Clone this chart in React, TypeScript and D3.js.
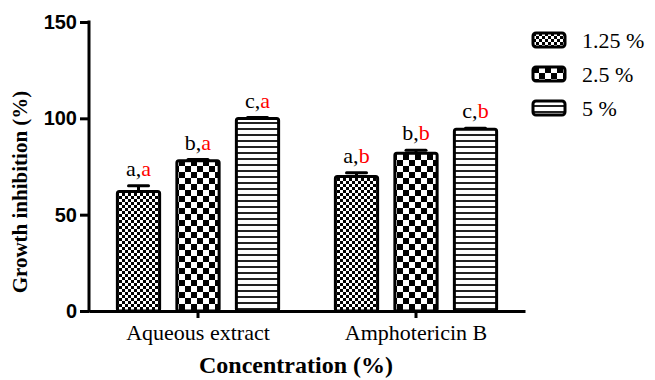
import { useEffect, useRef } from 'react'
import * as d3 from 'd3'

const groups = ['Aqueous extract', 'Amphotericin B']
const series = ['1.25 %', '2.5 %', '5 %']
const aqueousMeans = [62, 78, 99.9]
const amphoMeans = [69.8, 81.9, 94.3]
const aqueousErr = [3, 0.6, 0.5]
const amphoErr = [2, 1.5, 0.6]
const concLetters = ['a', 'b', 'c']
const groupLetters = ['a', 'b']
const yTicks = [0, 50, 100, 150]

const W = 655
const H = 380
const SERIF = '"Liberation Serif", "Times New Roman", serif'
const SANS = '"Liberation Sans", Arial, sans-serif'

export default function App() {
  const svgRef = useRef<SVGSVGElement | null>(null)

  useEffect(() => {
    document.body.style.margin = '0'
    const svg = d3.select(svgRef.current)
    svg.selectAll('*').remove()

    const margin = { top: 22, right: 130, bottom: 69, left: 89 }
    const innerW = W - margin.left - margin.right
    const innerH = H - margin.top - margin.bottom

    const x0 = d3.scaleBand().domain(groups).range([0, innerW]).padding(0)
    const x1 = d3.scaleBand().domain(series).range([0, x0.bandwidth()])
      .paddingInner(0.29).paddingOuter(0.477)
    const y = d3.scaleLinear().domain([0, 150]).range([innerH, 0])

    // fill patterns
    const defs = svg.append('defs')
    const fine = defs.append('pattern').attr('id', 'p0').attr('patternUnits', 'userSpaceOnUse')
      .attr('width', 6).attr('height', 6)
    fine.append('rect').attr('width', 6).attr('height', 6).attr('fill', '#fff')
    fine.append('rect').attr('width', 3).attr('height', 3).attr('fill', '#000')
    fine.append('rect').attr('x', 3).attr('y', 3).attr('width', 3).attr('height', 3).attr('fill', '#000')

    const coarse = defs.append('pattern').attr('id', 'p1').attr('patternUnits', 'userSpaceOnUse')
      .attr('width', 12).attr('height', 12)
    coarse.append('rect').attr('width', 12).attr('height', 12).attr('fill', '#fff')
    coarse.append('rect').attr('width', 6).attr('height', 6).attr('fill', '#000')
    coarse.append('rect').attr('x', 6).attr('y', 6).attr('width', 6).attr('height', 6).attr('fill', '#000')

    const stripes = defs.append('pattern').attr('id', 'p2').attr('patternUnits', 'userSpaceOnUse')
      .attr('width', 6).attr('height', 6)
    stripes.append('rect').attr('width', 6).attr('height', 6).attr('fill', '#fff')
    stripes.append('rect').attr('y', 4).attr('width', 6).attr('height', 2).attr('fill', '#222')

    const g = svg.append('g').attr('transform', `translate(${margin.left},${margin.top})`)

    const rows = groups.map((grp, gi) => ({
      grp,
      gi,
      means: gi === 0 ? aqueousMeans : amphoMeans,
      errs: gi === 0 ? aqueousErr : amphoErr,
    }))

    rows.forEach((row) => {
      const gg = g.append('g').attr('transform', `translate(${x0(row.grp)},0)`)
      series.forEach((s, si) => {
        const v = row.means[si]
        const e = row.errs[si]
        const bx = x1(s)!
        const bw = x1.bandwidth()
        const cx = bx + bw / 2
        // error bar (upper only)
        gg.append('line').attr('x1', cx).attr('x2', cx).attr('y1', y(v)).attr('y2', y(v + e))
          .attr('stroke', '#000').attr('stroke-width', 3)
        gg.append('line').attr('x1', cx - 10).attr('x2', cx + 10).attr('y1', y(v + e)).attr('y2', y(v + e))
          .attr('stroke', '#000').attr('stroke-width', 3).attr('stroke-linecap', 'round')
        gg.append('rect')
          .attr('x', bx).attr('y', y(v)).attr('width', bw).attr('height', innerH - y(v))
          .attr('rx', 2)
          .attr('fill', `url(#p${si})`).attr('stroke', '#000').attr('stroke-width', 3)
        const t = gg.append('text').attr('x', cx).attr('y', y(v + e) - 10)
          .attr('text-anchor', 'middle').attr('font-family', SERIF).attr('font-size', 22)
        t.append('tspan').attr('fill', '#000').text(`${concLetters[si]},`)
        t.append('tspan').attr('fill', '#ff0000').text(groupLetters[row.gi])
      })
    })

    // x axis
    const xa = g.append('g').attr('transform', `translate(0,${innerH})`)
      .call(d3.axisBottom(x0).tickSize(7).tickPadding(6).tickSizeOuter(0))
    xa.select('.domain').attr('stroke', '#000').attr('stroke-width', 3)
    xa.selectAll('.tick line').attr('stroke', '#000').attr('stroke-width', 3)
    xa.selectAll('text').attr('fill', '#000').attr('font-family', SERIF).attr('font-size', 22)

    // y axis
    const ya = g.append('g')
      .call(d3.axisLeft(y).tickValues(yTicks).tickSize(9).tickPadding(3).tickSizeOuter(0))
    ya.select('.domain').attr('stroke', '#000').attr('stroke-width', 3)
      .attr('d', `M0,${innerH + 1.5}V${-1.5}`)
    ya.selectAll('.tick line').attr('stroke', '#000').attr('stroke-width', 3)
    ya.selectAll('text').attr('fill', '#000').attr('font-family', SANS)
      .attr('font-weight', 'bold').attr('font-size', 20)

    // axis titles
    svg.append('text')
      .attr('x', 296).attr('y', 373)
      .attr('text-anchor', 'middle').attr('font-family', SERIF).attr('font-weight', 'bold')
      .attr('font-size', 24).attr('fill', '#000')
      .text('Concentration (%)')

    svg.append('text')
      .attr('transform', 'translate(27,192) rotate(-90)')
      .attr('text-anchor', 'middle').attr('font-family', SERIF).attr('font-weight', 'bold')
      .attr('font-size', 21).attr('fill', '#000')
      .text('Growth inhibition (%)')

    // legend
    series.forEach((s, si) => {
      const lg = svg.append('g').attr('transform', `translate(533,${33 + si * 34})`)
      lg.append('rect').attr('width', 32).attr('height', 14).attr('rx', 3)
        .attr('fill', `url(#p${si})`).attr('stroke', '#000').attr('stroke-width', 3)
      lg.append('text').attr('x', 49).attr('y', 15)
        .attr('font-family', SERIF).attr('font-size', 22).attr('fill', '#000')
        .text(s)
    })
  }, [])

  return <svg ref={svgRef} width={W} height={H} style={{ display: 'block', background: '#fff' }} />
}
